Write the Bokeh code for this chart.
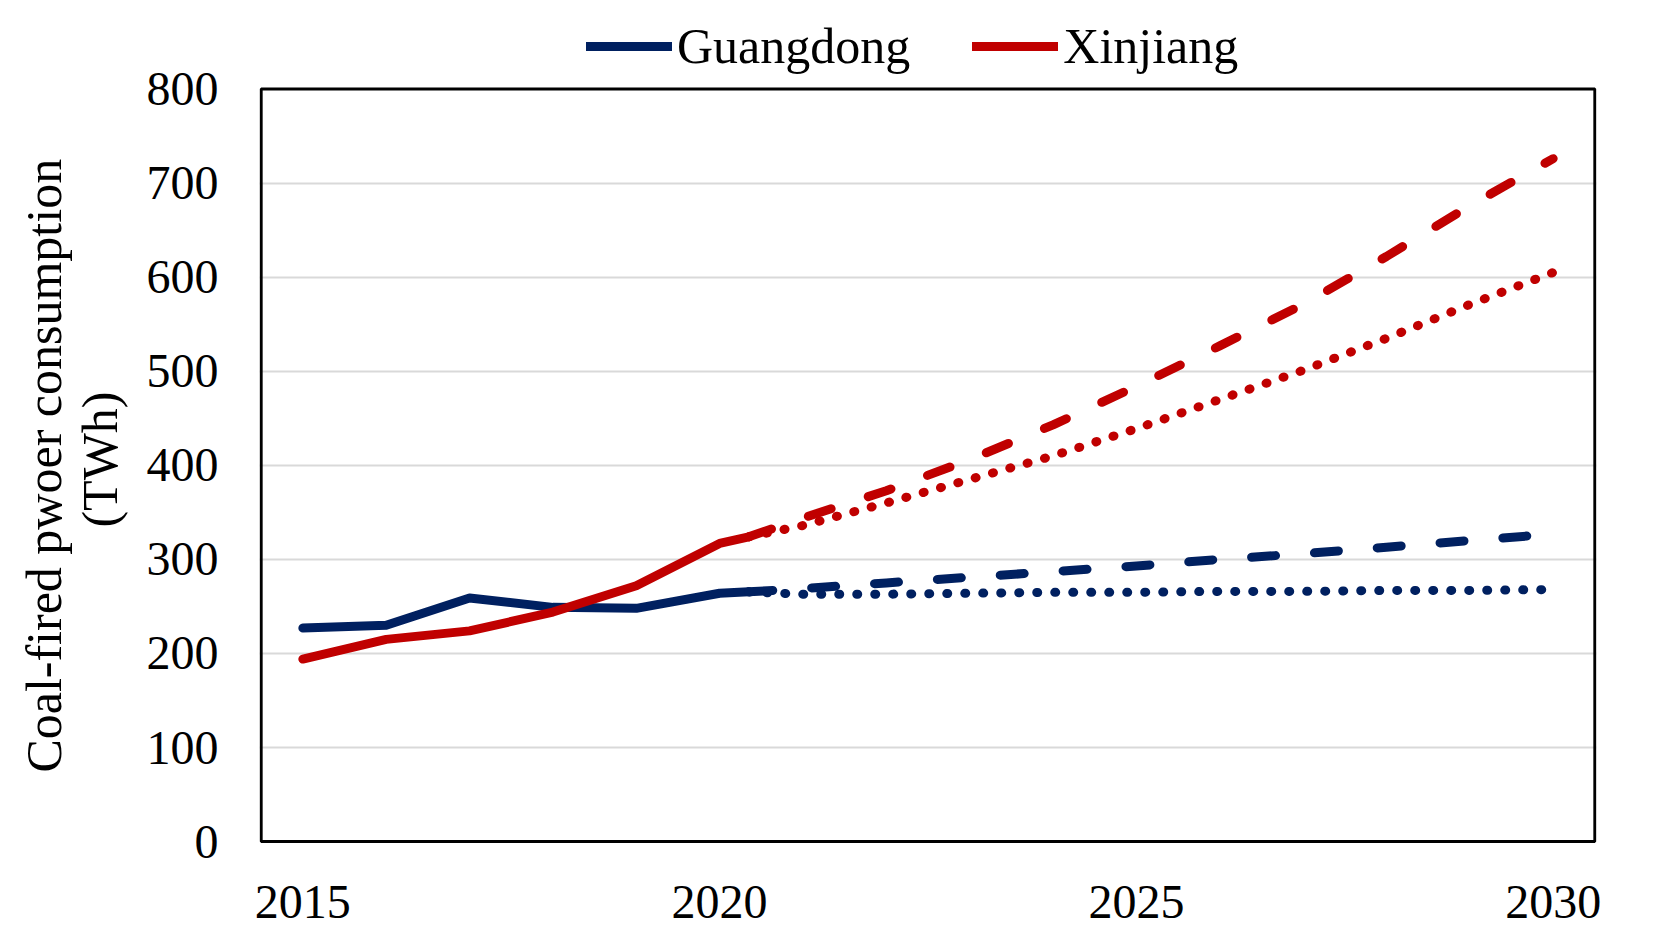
from bokeh.plotting import figure
from bokeh.models import Range1d, FixedTicker, Legend, LegendItem, BoxAnnotation
from bokeh.embed import file_html
from bokeh.resources import INLINE

# ---- data ----
years_hist = [2015, 2016, 2017, 2018, 2019, 2020, 2020.35]
guangdong_hist = [227, 230, 259, 249, 248, 264, 265.5]
xinjiang_hist = [194, 215, 224, 244, 272, 317, 324]

years_proj = [2020.35, 2021, 2022, 2023, 2024, 2025, 2026, 2027, 2028, 2029, 2030]
guangdong_high = [265.5, 269, 275, 281, 287, 293, 300, 306, 313, 320, 327]
guangdong_low = [265.5, 263, 263, 264, 265, 265, 266, 266, 267, 267, 268]
xinjiang_high = [324, 344, 373, 406, 443, 484, 527, 571, 622, 676, 726]
xinjiang_low = [324, 336, 360, 385, 410, 439, 470, 501, 535, 571, 605]

x_ticks = [2015, 2020, 2025, 2030]
y_ticks = [0, 100, 200, 300, 400, 500, 600, 700, 800]
x_limits = (2014.5, 2030.5)
y_limits = (0, 800)
series_names = ["Guangdong", "Xinjiang"]
y_title_lines = ["Coal-fired  pwoer consumption", "(TWh)"]

NAVY = "#002060"
RED = "#C00000"
FONT = "Liberation Serif"
LW = 9

# frame extends slightly beyond the chart box so the box stroke is not clipped;
# the upper part of the frame hosts the legend
p = figure(
    width=1638, height=929,
    frame_width=1337, frame_height=843,
    min_border_left=259, min_border_right=42,
    min_border_top=0, min_border_bottom=86,
    x_range=Range1d(2014.48, 2030.52), y_range=Range1d(-2, 894.1),
    output_backend="svg", toolbar_location=None,
    background_fill_color="white", border_fill_color="white",
)
p.outline_line_color = None

box = BoxAnnotation(left=x_limits[0], right=x_limits[1],
                    bottom=y_limits[0], top=y_limits[1],
                    fill_alpha=0, line_color="black", line_width=3, line_alpha=1)
p.add_layout(box)

p.xaxis.ticker = FixedTicker(ticks=x_ticks)
p.yaxis.ticker = FixedTicker(ticks=y_ticks)
p.xaxis.bounds = x_limits
p.yaxis.bounds = y_limits
for ax in (p.xaxis[0], p.yaxis[0]):
    ax.axis_line_color = None
    ax.major_tick_line_color = None
    ax.minor_tick_line_color = None
    ax.major_label_text_font = FONT
    ax.major_label_text_font_size = "48px"
    ax.major_label_text_color = "black"
p.xaxis.major_label_standoff = 36
p.yaxis.major_label_standoff = 35

# trailing no-break spaces shift the centred title down so that it is
# centred on the chart box rather than on the (taller) frame
pad = "\u00a0" * 6
p.yaxis.axis_label = "\n".join(line + pad for line in y_title_lines)
p.yaxis.axis_label_text_font = FONT
p.yaxis.axis_label_text_font_size = "50px"
p.yaxis.axis_label_text_font_style = "normal"
p.yaxis.axis_label_text_color = "black"
p.yaxis.axis_label_text_line_height = 1.0
p.yaxis.axis_label_standoff = 16

p.xgrid.grid_line_color = None
p.ygrid.grid_line_color = "#d9d9d9"
p.ygrid.grid_line_width = 2
p.ygrid.ticker = FixedTicker(ticks=y_ticks[1:-1])

g_solid = p.line(years_hist, guangdong_hist, line_color=NAVY, line_width=LW,
                 line_cap="round", line_join="round")
x_solid = p.line(years_hist, xinjiang_hist, line_color=RED, line_width=LW,
                 line_cap="round", line_join="round")
p.line(years_proj, guangdong_low, line_color=NAVY, line_width=LW,
       line_cap="round", line_join="round", line_dash="1 17")
p.line(years_proj, xinjiang_low, line_color=RED, line_width=LW,
       line_cap="round", line_join="round", line_dash="1 17")
p.line(years_proj, guangdong_high, line_color=NAVY, line_width=LW,
       line_cap="round", line_join="round", line_dash="24 39")
p.line(years_proj, xinjiang_high, line_color=RED, line_width=LW,
       line_cap="round", line_join="round", line_dash="24 39")

legend = Legend(
    items=[LegendItem(label=series_names[0], renderers=[g_solid]),
           LegendItem(label=series_names[1], renderers=[x_solid])],
    orientation="horizontal", location=(327, 768),
    label_text_font=FONT, label_text_font_size="50px", label_text_color="black",
    glyph_width=86, glyph_height=40, label_standoff=5, spacing=62,
    padding=0, margin=0, border_line_color=None, background_fill_alpha=0,
)
p.add_layout(legend, "center")

open("out.html", "w").write(file_html(p, INLINE))
